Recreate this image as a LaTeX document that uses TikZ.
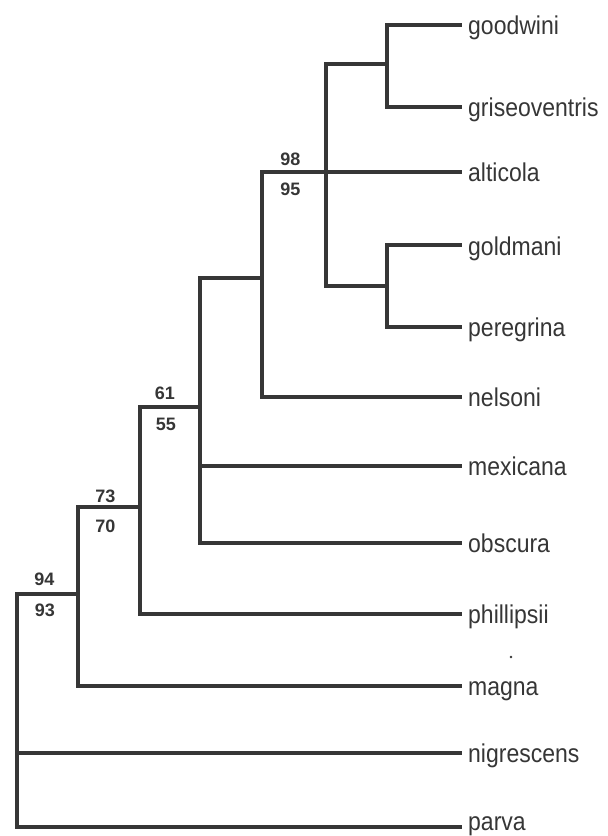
\documentclass[tikz,border=0pt]{standalone}
\usepackage{fontspec}
\setmainfont{Liberation Sans}
\definecolor{ink}{HTML}{363636}
\newcommand{\tipname}[1]{\scalebox{1}[1.12]{#1}}
\begin{document}
\begin{tikzpicture}[x=1pt,y=-1pt,
  branch/.style={draw=ink, line width=4pt, line cap=rect, line join=miter},
  tiplabel/.style={anchor=base west, inner sep=0pt, font=\fontsize{23}{24}\selectfont, text=ink},
  support/.style={anchor=base, inner sep=0pt, font=\fontsize{18}{20}\selectfont\bfseries, text=ink}]
\useasboundingbox (0,0) rectangle (608,836);
\fill[white] (0,0) rectangle (608,836);
% tip ends
\coordinate (t1) at (460,25);
\coordinate (t2) at (460,107);
\coordinate (t3) at (460,172);
\coordinate (t4) at (460,245);
\coordinate (t5) at (460,327);
\coordinate (t6) at (460,397);
\coordinate (t7) at (460,466);
\coordinate (t8) at (460,543);
\coordinate (t9) at (460,614);
\coordinate (t10) at (460,686);
\coordinate (t11) at (460,753);
\coordinate (t12) at (460,827);
% internal nodes
\coordinate (n1) at (387,64);
\coordinate (n2) at (387,286);
\coordinate (n3) at (326,172);
\coordinate (n4) at (262,278);
\coordinate (n5) at (200,407);
\coordinate (n6) at (140,507);
\coordinate (n7) at (78,594);
\coordinate (n8) at (17,594);
% branches
\draw[branch] (n3) |- (n1);
\draw[branch] (n1) |- (t1);
\draw[branch] (n1) |- (t2);
\draw[branch] (n3) |- (n2);
\draw[branch] (n2) |- (t4);
\draw[branch] (n2) |- (t5);
\draw[branch] (n4) |- (n3);
\draw[branch] (n3) -- (t3);
\draw[branch] (n4) |- (t6);
\draw[branch] (n5) |- (n4);
\draw[branch] (n5) |- (t7);
\draw[branch] (n5) |- (t8);
\draw[branch] (n6) |- (n5);
\draw[branch] (n6) |- (t9);
\draw[branch] (n7) |- (n6);
\draw[branch] (n7) |- (t10);
\draw[branch] (n8) -- (n7);
\draw[branch] (n8) |- (t11);
\draw[branch] (n8) |- (t12);
% tip labels
\node[tiplabel] (goodwini) at (468,34) {\tipname{goodwini}};
\node[tiplabel] (griseoventris) at (468,116) {\tipname{griseoventris}};
\node[tiplabel] (alticola) at (468,181) {\tipname{alticola}};
\node[tiplabel] (goldmani) at (468,255) {\tipname{goldmani}};
\node[tiplabel] (peregrina) at (468,336) {\tipname{peregrina}};
\node[tiplabel] (nelsoni) at (468,406) {\tipname{nelsoni}};
\node[tiplabel] (mexicana) at (468,475) {\tipname{mexicana}};
\node[tiplabel] (obscura) at (468,552) {\tipname{obscura}};
\node[tiplabel] (phillipsii) at (468,623) {\tipname{phillipsii}};
\node[tiplabel] (magna) at (468,695) {\tipname{magna}};
\node[tiplabel] (nigrescens) at (468,762) {\tipname{nigrescens}};
\node[tiplabel] (parva) at (468,830) {\tipname{parva}};
% support values
\node[support] (s98) at (290.5,165) {98};
\node[support] (s95) at (290.5,195) {95};
\node[support] (s61) at (165,399) {61};
\node[support] (s55) at (166,430) {55};
\node[support] (s73) at (105.5,502) {73};
\node[support] (s70) at (105.5,532) {70};
\node[support] (s94) at (44.5,585) {94};
\node[support] (s93) at (45,616) {93};
% speck
\fill[ink] (511,657) circle (1.3);
\end{tikzpicture}
\end{document}
